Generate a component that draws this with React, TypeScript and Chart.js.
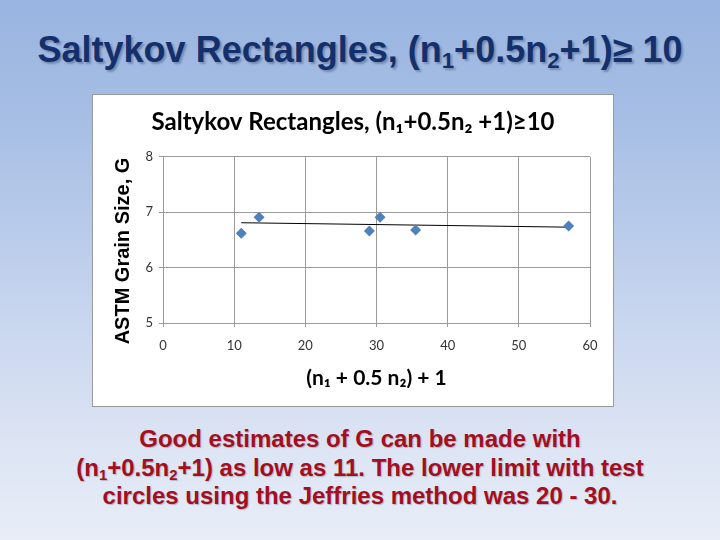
import React, { useEffect, useRef } from "react";
import { Chart, registerables } from "chart.js";

Chart.register(...registerables);

const pointX: number[] = [11, 13.5, 29, 30.5, 35.5, 57];
const pointY: number[] = [6.62, 6.91, 6.66, 6.91, 6.68, 6.75];
const trendX: number[] = [11, 57];
const trendY: number[] = [6.81, 6.73];
const xTicks: number[] = [0, 10, 20, 30, 40, 50, 60];
const yTicks: number[] = [5, 6, 7, 8];

const chartTitle = "Saltykov Rectangles, (n\u2081+0.5n\u2082 +1)\u226510";
const xTitle = "(n\u2081 + 0.5 n\u2082) + 1";
const yTitle = "ASTM Grain Size, G    ";

const subStyle: React.CSSProperties = {
  fontSize: "0.62em",
  verticalAlign: "-0.28em",
  lineHeight: 0,
};

export default function App() {
  const ref = useRef<HTMLCanvasElement | null>(null);

  useEffect(() => {
    if (!ref.current) return;
    const chart = new Chart(ref.current, {
      type: "scatter",
      data: {
        datasets: [
          {
            type: "line",
            label: "Trend",
            data: trendX.map((x, i) => ({ x, y: trendY[i] })),
            borderColor: "#000000",
            borderWidth: 1,
            pointRadius: 0,
            showLine: true,
            fill: false,
            order: 2,
          },
          {
            type: "scatter",
            label: "G",
            data: pointX.map((x, i) => ({ x, y: pointY[i] })),
            pointStyle: "rectRot",
            pointRadius: 5.5,
            backgroundColor: "#4f81bd",
            borderColor: "#4f81bd",
            borderWidth: 0,
            order: 1,
          },
        ],
      },
      options: {
        animation: false,
        responsive: false,
        maintainAspectRatio: false,
        layout: { padding: { left: 0, right: 0, top: 0, bottom: 0 } },
        plugins: {
          legend: { display: false },
          tooltip: { enabled: false },
          title: {
            display: true,
            text: chartTitle,
            color: "#000000",
            font: { family: "Lato, 'DejaVu Sans', sans-serif", size: 24, weight: "bold" },
            padding: { top: 13, bottom: 20 },
          },
        },
        scales: {
          x: {
            type: "linear",
            min: 0,
            max: 60,
            afterBuildTicks: (scale: any) => {
              scale.ticks = xTicks.map((v) => ({ value: v }));
            },
            afterFit: (scale: any) => {
              scale.height = 83;
            },
            ticks: {
              color: "#333333",
              font: { family: "Lato, sans-serif", size: 13 },
              padding: 11,
              maxRotation: 0,
            },
            grid: { color: "#9a9a9a", tickLength: 4, lineWidth: 1 },
            border: { color: "#9a9a9a" },
            title: {
              display: true,
              text: xTitle,
              color: "#000000",
              font: { family: "Lato, 'DejaVu Sans', sans-serif", size: 21, weight: "bold" },
              padding: { top: 4, bottom: 15 },
            },
          },
          y: {
            type: "linear",
            position: "left",
            min: 5,
            max: 8,
            afterBuildTicks: (scale: any) => {
              scale.ticks = yTicks.map((v) => ({ value: v }));
            },
            afterFit: (scale: any) => {
              scale.width = 70;
            },
            ticks: {
              color: "#333333",
              font: { family: "Lato, sans-serif", size: 13 },
              padding: 6,
            },
            grid: { color: "#9a9a9a", tickLength: 4, lineWidth: 1 },
            border: { color: "#9a9a9a" },
            title: {
              display: true,
              text: yTitle,
              color: "#000000",
              font: { family: "'Liberation Sans', Arial, sans-serif", size: 20, weight: "bold" },
              padding: { top: 18, bottom: 4 },
            },
          },
          yRight: {
            type: "linear",
            position: "right",
            display: true,
            min: 5,
            max: 8,
            afterFit: (scale: any) => {
              scale.width = 23;
            },
            ticks: { display: false },
            grid: { display: false },
            border: { display: false },
          },
        },
      },
    } as any);
    return () => chart.destroy();
  }, []);

  return (
    <div
      style={{
        position: "fixed",
        left: 0,
        top: 0,
        width: 720,
        height: 540,
        overflow: "hidden",
        background:
          "linear-gradient(to bottom, #98b4e0 0%, #a9c0e5 25%, #c4d3ee 55%, #dbe3f3 80%, #e8edf7 100%)",
        fontFamily: "'Liberation Sans', Arial, sans-serif",
      }}
    >
      <div
        style={{
          position: "absolute",
          left: 0,
          top: 29,
          width: 720,
          textAlign: "center",
          fontSize: 36,
          lineHeight: "42px",
          fontWeight: "bold",
          color: "#14306c",
          textShadow: "2px 2px 2px rgba(40,50,80,0.35)",
          whiteSpace: "nowrap",
        }}
      >
        Saltykov Rectangles, (n<span style={subStyle}>1</span>+0.5n
        <span style={subStyle}>2</span>+1)≥ 10
      </div>
      <div
        style={{
          position: "absolute",
          left: 92,
          top: 94,
          width: 520,
          height: 311,
          background: "#ffffff",
          border: "1px solid #9a9a9a",
        }}
      >
        <canvas ref={ref} width={520} height={311} style={{ display: "block", width: 520, height: 311 }} />
      </div>
      <div
        style={{
          position: "absolute",
          left: 0,
          top: 425,
          width: 720,
          textAlign: "center",
          fontSize: 24,
          lineHeight: "28.5px",
          fontWeight: "bold",
          color: "#a30f1f",
          textShadow: "1px 1px 1px rgba(120,120,140,0.45)",
          whiteSpace: "nowrap",
        }}
      >
        Good estimates of G can be made with
        <br />
        (n<span style={subStyle}>1</span>+0.5n<span style={subStyle}>2</span>+1) as low as 11. The lower limit with test
        <br />
        circles using the Jeffries method was 20 - 30.
      </div>
    </div>
  );
}
